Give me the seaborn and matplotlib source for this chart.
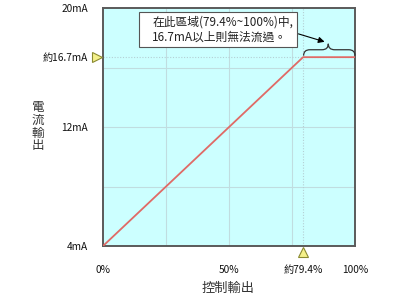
import matplotlib
matplotlib.use("Agg")
import matplotlib.pyplot as plt
import seaborn as sns
import pandas as pd
from matplotlib.path import Path
from matplotlib.patches import PathPatch, FancyBboxPatch

# data
control_pct = [0, 79.4, 100]
current_ma = [4, 16.7, 16.7]
x_ticks = [0, 50, 79.4, 100]
x_labels = ["0%", "50%", "約79.4%", "100%"]
y_ticks = [4, 12, 16.7, 20]
y_labels = ["4mA", "12mA", "約16.7mA", "20mA"]
note_text = "在此區域(79.4%~100%)中,\n16.7mA以上則無法流過。"
x_title = "控制輸出"
y_title = "電流輸出"

sns.set_theme(style="white")
plt.rcParams['font.family'] = ['Noto Sans CJK TC', 'DejaVu Sans']

fig = plt.figure(figsize=(4, 3), dpi=100)
ax = fig.add_axes([0.2575, 0.18, 0.63, 0.793])
ax.set_facecolor("#ccffff")

df = pd.DataFrame({"x": control_pct, "y": current_ma})

# grid
for gx in [25, 50, 75]:
    ax.axvline(gx, color="#c0dde0", lw=0.8, zorder=1)
for gy in [8, 12, 16]:
    ax.axhline(gy, color="#c0dde0", lw=0.8, zorder=1)
ax.axvline(79.4, color="#b5cfd4", lw=0.8, ls=(0, (1, 1.5)), zorder=1)
ax.axhline(16.7, color="#b5cfd4", lw=0.8, ls=(0, (1, 1.5)), zorder=1)

sns.lineplot(data=df, x="x", y="y", ax=ax, color="#e06a66", lw=1.3, zorder=3)

ax.set_xlim(0, 100)
ax.set_ylim(4, 20)
ax.set_xticks(x_ticks)
ax.set_xticklabels(x_labels, fontsize=7.3, color="#111111")
ax.set_yticks(y_ticks)
ax.set_yticklabels(y_labels, fontsize=7.3, color="#111111")
ax.tick_params(axis="x", length=0, pad=14)
ax.tick_params(axis="y", length=0, pad=11)
ax.set_xlabel("")
ax.set_ylabel("")
for s in ax.spines.values():
    s.set_color("#5a5a5a")
    s.set_linewidth(1.4)

# triangle markers
ax.plot([-2.4], [16.7], marker=">", ms=7, mfc="#f4f08a", mec="#8a8a30", mew=0.8,
        clip_on=False, zorder=5)
ax.plot([79.4], [3.6], marker="^", ms=7, mfc="#f4f08a", mec="#8a8a30", mew=0.8,
        clip_on=False, zorder=5)

# annotation box
box = FancyBboxPatch((14.3, 17.38), 62.7, 2.35, boxstyle="square,pad=0",
                     fc="white", ec="#555555", lw=0.8, zorder=6)
ax.add_patch(box)
ax.text(19.5, 18.55, note_text, fontsize=8.5, color="#222222", va="center",
        ha="left", linespacing=1.3, zorder=7)

# arrow
ax.annotate("", xy=(89.0, 17.68), xytext=(76.5, 18.32),
            arrowprops=dict(arrowstyle="-|>", color="black", lw=0.8,
                            mutation_scale=9), zorder=7)

# curly brace
x0, x1, xm = 79.6, 100.0, 89.4
yb, yh, yp = 16.8, 17.2, 17.6
verts = [(x0, yb), (x0, yh), (x0 + 2.5, yh),
         (xm - 2.5, yh), (xm, yh), (xm, yp),
         (xm, yh), (xm + 2.5, yh),
         (x1 - 2.5, yh), (x1, yh), (x1, yb)]
codes = [Path.MOVETO, Path.CURVE3, Path.CURVE3,
         Path.LINETO, Path.CURVE3, Path.CURVE3,
         Path.CURVE3, Path.CURVE3,
         Path.LINETO, Path.CURVE3, Path.CURVE3]
ax.add_patch(PathPatch(Path(verts, codes), fc="none", ec="#333333", lw=0.9,
                       clip_on=False, zorder=6))

# axis titles
for i, ch in enumerate(y_title):
    fig.text(38 / 400, 1 - (108 + i * 12.5) / 300, ch, fontsize=9,
             ha="center", va="center", color="#333333",
             family=["Noto Sans CJK JP", "DejaVu Sans"])
fig.text(228 / 400, 1 - 288 / 300, x_title, fontsize=9.5, ha="center", va="center",
         color="#333333")

fig.savefig("out.png", dpi=100)
